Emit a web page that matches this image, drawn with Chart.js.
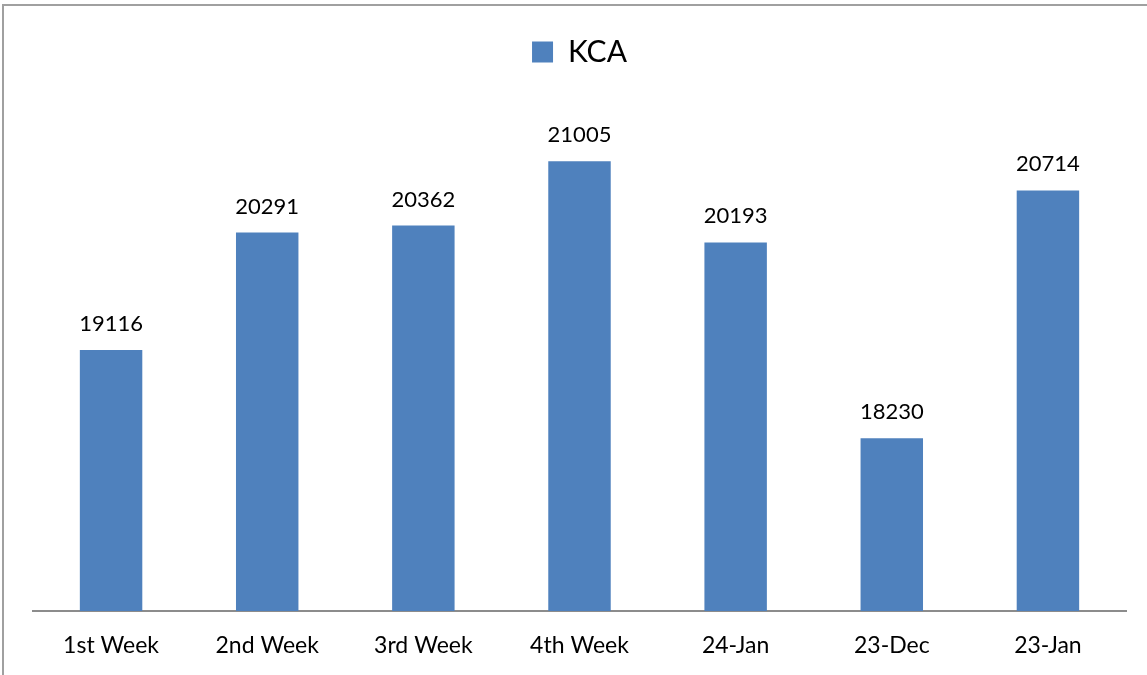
<!DOCTYPE html>
<html>
<head>
<meta charset="utf-8">
<script src="https://cdn.jsdelivr.net/npm/chart.js@4"></script>
<style>
  body { margin: 0; background: #fff; }
  #frame {
    position: absolute; left: 2px; top: 4px; width: 1200px; height: 700px;
    border-left: 2px solid #a0a0a0; border-top: 2px solid #a0a0a0;
  }
  #wrap { position: absolute; left: 0; top: 0; width: 1147px; height: 675px; }
</style>
</head>
<body>
<div id="frame"></div>
<div id="wrap"><canvas id="myChart"></canvas></div>
<script>
// waarden
const categories = ['1st Week', '2nd Week', '3rd Week', '4th Week', '24-Jan', '23-Dec', '23-Jan'];
const kcaValues = [19116, 20291, 20362, 21005, 20193, 18230, 20714];
const seriesName = 'KCA';

const barLabels = {
    id: 'barLabels',
    afterDatasetsDraw(chart) {
        const ctx = chart.ctx;
        const meta = chart.getDatasetMeta(0);
        ctx.save();
        ctx.font = '22px Lato';
        ctx.fillStyle = '#000';
        ctx.textAlign = 'center';
        ctx.textBaseline = 'alphabetic';
        meta.data.forEach((bar, i) => {
            ctx.fillText(kcaValues[i], bar.x, bar.y - 19);
        });
        ctx.restore();
    }
};

const renderChart = () => {
    const ctx = document.getElementById('myChart').getContext('2d');
    new Chart(ctx, {
        type: 'bar',
        data: {
            labels: categories,
            datasets: [{
                label: seriesName,
                data: kcaValues,
                backgroundColor: '#4F81BD',
                barPercentage: 0.4,
                categoryPercentage: 1.0
            }]
        },
        options: {
            responsive: true,
            maintainAspectRatio: false,
            animation: false,
            layout: { padding: { left: 33, right: 21, top: 24, bottom: 0 } },
            plugins: {
                legend: {
                    position: 'top',
                    labels: {
                        boxWidth: 21,
                        boxHeight: 21,
                        padding: 13,
                        color: '#000',
                        font: { family: 'Lato', size: 30 }
                    }
                },
                tooltip: { enabled: false }
            },
            scales: {
                x: {
                    grid: { display: false, drawTicks: false },
                    border: { display: true, color: '#8c8c8c', width: 2 },
                    ticks: { color: '#000', padding: 21, font: { family: 'Lato', size: 23 } },
                    afterFit(scale) { scale.height = 64; }
                },
                y: {
                    display: false,
                    min: 16500,
                    max: 21850
                }
            }
        },
        plugins: [barLabels]
    });
};

document.addEventListener('DOMContentLoaded', renderChart);
</script>
</body>
</html>
